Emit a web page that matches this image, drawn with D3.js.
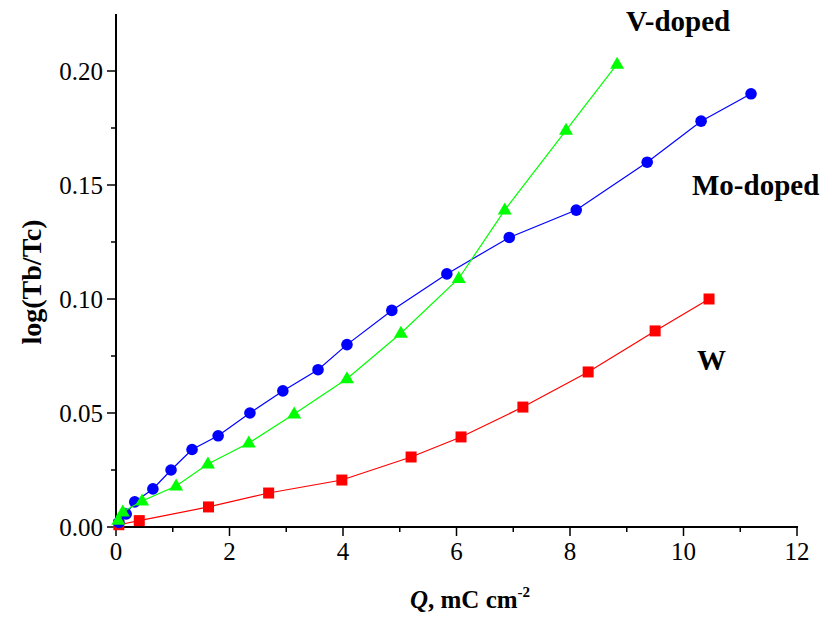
<!DOCTYPE html>
<html><head><meta charset="utf-8">
<script src="https://cdn.jsdelivr.net/npm/d3@7"></script>
<style>body{margin:0;background:#fff}svg{display:block}</style>
</head><body><svg id="c" width="833" height="619" font-family="'Liberation Serif','Times New Roman',serif"></svg>
<script>
const xTicks=[0,2,4,6,8,10,12];
const yTicks=[0.00,0.05,0.10,0.15,0.20];
const yTickLabels=["0.00","0.05","0.10","0.15","0.20"];
const moX=[0.05,0.18,0.33,0.65,0.97,1.34,1.80,2.36,2.94,3.56,4.07,4.86,5.83,6.93,8.11,9.36,10.31,11.19];
const moY=[0.002,0.0057,0.011,0.0167,0.025,0.034,0.040,0.050,0.0597,0.069,0.080,0.095,0.111,0.127,0.139,0.160,0.178,0.190];
const vX=[0.04,0.12,0.46,1.06,1.62,2.34,3.14,4.07,5.02,6.04,6.85,7.93,8.83];
const vY=[0.003,0.0066,0.0114,0.018,0.0276,0.0368,0.0496,0.065,0.085,0.109,0.139,0.174,0.203];
const wX=[0.05,0.41,1.63,2.69,3.98,5.20,6.08,7.17,8.32,9.50,10.45];
const wY=[0.001,0.0028,0.0088,0.0149,0.0206,0.0307,0.0395,0.0526,0.068,0.086,0.100];
const seriesNames=["Mo-doped","V-doped","W"];

const svg=d3.select("#c");
const x=d3.scaleLinear().domain([0,12]).range([116,797]);
const y=d3.scaleLinear().domain([0,0.225]).range([527,14]);

// axes
const xAxis=svg.append("g").attr("transform","translate(0,527)");
xAxis.append("line").attr("x1",x(0)-1).attr("x2",x(12)+1).attr("stroke","#000").attr("stroke-width",2);
d3.range(0,13,1).forEach(v=>{
  const major=v%2===0;
  xAxis.append("line").attr("x1",x(v)).attr("x2",x(v)).attr("y1",0).attr("y2",major?9:5).attr("stroke","#000").attr("stroke-width",1.5);
});
xTicks.forEach(v=>xAxis.append("text").attr("x",x(v)).attr("y",33).attr("text-anchor","middle").attr("font-size",25).text(v));

const yAxis=svg.append("g").attr("transform","translate(116,0)");
yAxis.append("line").attr("y1",y(0)+1).attr("y2",y(0.225)).attr("stroke","#000").attr("stroke-width",2);
d3.range(0,9).map(i=>i*0.025).forEach((v,i)=>{
  const major=i%2===0;
  yAxis.append("line").attr("x1",0).attr("x2",major?-9:-5).attr("y1",y(v)).attr("y2",y(v)).attr("stroke","#000").attr("stroke-width",1.5);
});
yTicks.forEach((v,i)=>yAxis.append("text").attr("x",-13).attr("y",y(v)+8.5).attr("text-anchor","end").attr("font-size",25).text(yTickLabels[i]));

// titles
svg.append("text").attr("transform","translate(41,282) rotate(-90)").attr("text-anchor","middle").attr("font-size",28).attr("font-weight","bold").text("log(Tb/Tc)");
const xt=svg.append("text").attr("x",470).attr("y",608).attr("text-anchor","middle").attr("font-size",25).attr("font-weight","bold");
xt.append("tspan").attr("font-style","italic").text("Q");
xt.append("tspan").text(", mC cm");
xt.append("tspan").attr("font-size",15).attr("dy",-11).text("-2");

// series
const series=[
 {name:seriesNames[2],xs:wX,ys:wY,color:"#ff0000",shape:"square"},
 {name:seriesNames[0],xs:moX,ys:moY,color:"#0000ff",shape:"circle"},
 {name:seriesNames[1],xs:vX,ys:vY,color:"#00ff00",shape:"triangle"}
];
const line=d3.line().x(d=>x(d[0])).y(d=>y(d[1]));
series.forEach(s=>{
  const pts=s.xs.map((v,i)=>[v,s.ys[i]]);
  svg.append("path").attr("d",line(pts)).attr("fill","none").attr("stroke",s.color).attr("stroke-width",1.2);
  const g=svg.append("g").attr("fill",s.color);
  pts.forEach(p=>{
    const cx=x(p[0]),cy=y(p[1]);
    if(s.shape==="circle") g.append("circle").attr("cx",cx).attr("cy",cy).attr("r",5.8);
    else if(s.shape==="square") g.append("rect").attr("x",cx-5.5).attr("y",cy-5.5).attr("width",11).attr("height",11);
    else g.append("path").attr("d",`M${cx},${cy-7.5}L${cx+7},${cy+4.5}L${cx-7},${cy+4.5}Z`);
  });
});

// series labels
svg.append("text").attr("x",626).attr("y",31).attr("font-size",29).attr("font-weight","bold").text(seriesNames[1]);
svg.append("text").attr("x",692).attr("y",195).attr("font-size",29).attr("font-weight","bold").text(seriesNames[0]);
svg.append("text").attr("x",697).attr("y",370).attr("font-size",29).attr("font-weight","bold").text(seriesNames[2]);
</script></body></html>
